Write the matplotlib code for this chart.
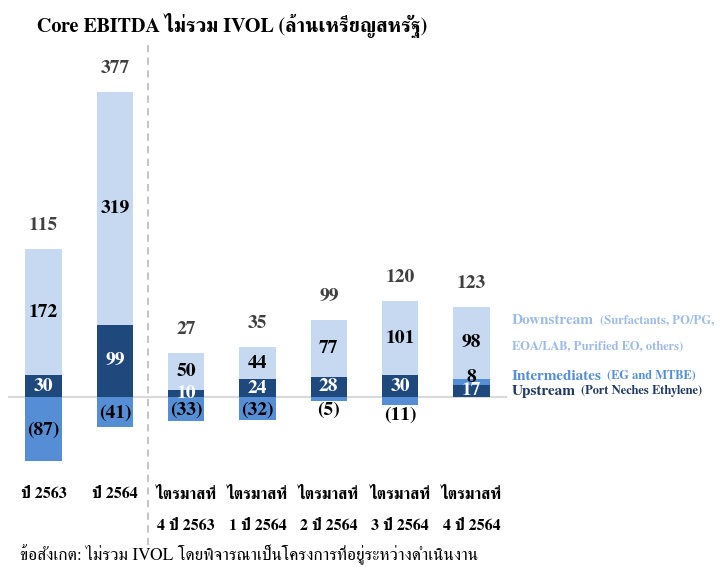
import matplotlib
matplotlib.use("Agg")
import matplotlib.pyplot as plt
import matplotlib.transforms as mtransforms
import numpy as np

categories = ["ปี 2563", "ปี 2564", "ไตรมาสที่\n4 ปี 2563", "ไตรมาสที่\n1 ปี 2564",
              "ไตรมาสที่\n2 ปี 2564", "ไตรมาสที่\n3 ปี 2564", "ไตรมาสที่\n4 ปี 2564"]
upstream = [30, 99, 10, 24, 28, 30, 17]
intermediates = [-87, -41, -33, -32, -5, -11, 8]
downstream = [172, 319, 50, 44, 77, 101, 98]
totals = [115, 377, 27, 35, 99, 120, 123]

title = "Core EBITDA ไม่รวม IVOL (ล้านเหรียญสหรัฐ)"
footnote = "ข้อสังเกต: ไม่รวม IVOL โดยพิจารณาเป็นโครงการที่อยู่ระหว่างดำเนินงาน"

C_UP = "#1f497d"
C_INT = "#558ed5"
C_DOWN = "#c6d9f1"

FONT = ["FreeSerif", "Liberation Serif", "DejaVu Serif"]
plt.rcParams["font.family"] = FONT

fig = plt.figure(figsize=(7.2, 5.67), dpi=100)
W, H = 720, 567
ax = fig.add_axes([8 / W, (H - 470) / H, 499 / W, 390 / H])
ax.set_xlim(-0.5, 6.5)
ax.set_ylim(-100, 434)
for s in ax.spines.values():
    s.set_visible(False)
ax.set_yticks([])

x = np.arange(len(categories))
bw = 0.51
ax.axhline(0, color="#d9d9d9", lw=1.5, zorder=1)

series = [("up", upstream, C_UP), ("int", intermediates, C_INT), ("down", downstream, C_DOWN)]
pos_base = np.zeros(len(x))
neg_base = np.zeros(len(x))
segs = {}
for name, vals, col in series:
    vals = np.array(vals, dtype=float)
    bottoms = np.where(vals >= 0, pos_base, neg_base)
    ax.bar(x, vals, bw, bottom=bottoms, color=col, zorder=2)
    segs[name] = (bottoms, vals)
    pos_base = pos_base + np.where(vals >= 0, vals, 0)
    neg_base = neg_base + np.where(vals < 0, vals, 0)

def fmt(v):
    return f"({abs(int(v))})" if v < 0 else f"{int(v)}"

LS = dict(fontsize=14, fontweight="bold", ha="center")
for i in range(len(x)):
    b, v = segs["up"][0][i], segs["up"][1][i]
    ax.text(x[i], b + v / 2, fmt(v), color="white", va="center", zorder=3, **LS)
    b, v = segs["down"][0][i], segs["down"][1][i]
    ax.text(x[i], b + v / 2, fmt(v), color="black", va="center", zorder=3, **LS)
    b, v = segs["int"][0][i], segs["int"][1][i]
    if v < 0 and abs(v) < 20:
        ax.annotate(fmt(v), (x[i], b + v), xytext=(0, -1), textcoords="offset points",
                    va="top", color="black", zorder=3, **LS)
    elif v > 0:
        ax.annotate(fmt(v), (x[i], b + v / 2), xytext=(0, 3), textcoords="offset points",
                    va="center", color="black", zorder=3, **LS)
    else:
        ax.annotate(fmt(v), (x[i], b + v / 2), xytext=(0, -1), textcoords="offset points",
                    va="center", color="black", zorder=3, **LS)
    ax.annotate(f"{totals[i]}", (x[i], pos_base[i]), xytext=(0, 17), textcoords="offset points",
                va="center", color="#404040", **LS)

ax.set_xticks(x)
ax.set_xticklabels(categories, fontsize=11.5, fontweight="bold", linespacing=2.5)
ax.tick_params(axis="x", length=0, pad=12.5)

# dashed separator
trans = mtransforms.blended_transform_factory(ax.transData, fig.transFigure)
ax.plot([1.46, 1.46], [1 - 45 / H, 1 - 545 / H], transform=trans, color="#bfbfbf",
        lw=1.3, ls=(0, (4, 3)), clip_on=False, zorder=0)

fig.text(37 / W, 1 - 25 / H, title, fontsize=14.5, fontweight="bold", va="center", ha="left")
fig.text(20 / W, 1 - 554 / H, footnote, fontsize=12.5, va="center", ha="left")

# legend texts
def legend_line(xp, yp, big, small, col, xs):
    fig.text(xp / W, 1 - yp / H, big, fontsize=11, fontweight="bold", color=col, va="center")
    if small:
        fig.text(xs / W, 1 - yp / H, small, fontsize=9, fontweight="bold", color=col, va="center")

legend_line(512, 321, "Downstream", "(Surfactants, PO/PG,", "#9ebbe5", 600)
fig.text(512 / W, 1 - 347 / H, "EOA/LAB, Purified EO, others)", fontsize=9,
         fontweight="bold", color="#9ebbe5", va="center")
legend_line(512, 376, "Intermediates", "(EG and MTBE)", C_INT, 607)
legend_line(512, 391, "Upstream", "(Port Neches Ethylene)", "#1f3864", 581)

fig.savefig("out.png", dpi=100)
